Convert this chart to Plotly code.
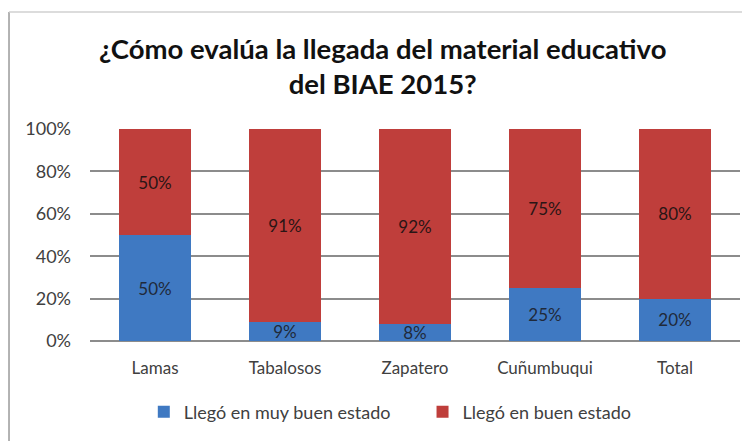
import plotly.graph_objects as go

categorias = ["Lamas", "Tabalosos", "Zapatero", "Cuñumbuqui", "Total"]
muy_buen = [50, 9, 8, 25, 20]
buen = [50, 91, 92, 75, 80]
series = ["Llegó en muy buen estado", "Llegó en buen estado"]

fig = go.Figure()
fig.add_trace(go.Bar(
    x=categorias, y=muy_buen, name=series[0] + "\u2003\u2003",
    marker=dict(color="#3F79C2", line=dict(width=0)),
    text=[f"{v}%" for v in muy_buen], textposition="inside",
    insidetextanchor="middle", textfont=dict(color="#1f2a3a", size=17),
))
fig.add_trace(go.Bar(
    x=categorias, y=buen, name=series[1],
    marker=dict(color="#BF3E3B", line=dict(width=0)),
    text=[f"{v}%" for v in buen], textposition="inside",
    insidetextanchor="middle", textfont=dict(color="#2a1515", size=17),
))

# page body has an 8px margin, so the figure is a bit smaller than the window
fig.update_layout(
    barmode="stack",
    bargap=0.44,
    width=742, height=433,
    margin=dict(l=82, r=10, t=121, b=100),
    paper_bgcolor="white", plot_bgcolor="white",
    font=dict(family="Lato, Open Sans, sans-serif", color="#404040", size=17),
    uniformtext=dict(minsize=17, mode="show"),
    title=dict(
        text="<b>¿Cómo evalúa la llegada del material educativo<br>del BIAE 2015?</b>",
        x=0.505, xanchor="center", y=0.883, yanchor="middle",
        font=dict(size=27.5, color="#111111"),
    ),
    legend=dict(orientation="h", x=0.462, xanchor="center", y=-0.335, yanchor="middle",
                font=dict(size=18, color="#404040"), traceorder="normal",
                itemwidth=30),
    xaxis=dict(showgrid=False, showline=False, ticks="", tickfont=dict(size=17),
               ticklabelstandoff=15),
    yaxis=dict(range=[0, 100], dtick=20, ticksuffix="%", gridcolor="#8c8c8c",
               gridwidth=1.5, zeroline=True, zerolinecolor="#8c8c8c", zerolinewidth=1.5,
               showline=False, tickfont=dict(size=18), ticklabelstandoff=18),
    shapes=[
        dict(type="line", xref="paper", yref="paper", x0=-0.1246, x1=-0.1246, y0=-0.6, y1=1.552,
             line=dict(color="#9a9a9a", width=1.5)),
        dict(type="line", xref="paper", yref="paper", x0=-0.1246, x1=1.1, y0=1.552, y1=1.552,
             line=dict(color="#d0d0d0", width=1.5)),
    ],
)

fig.write_html("out.html")
